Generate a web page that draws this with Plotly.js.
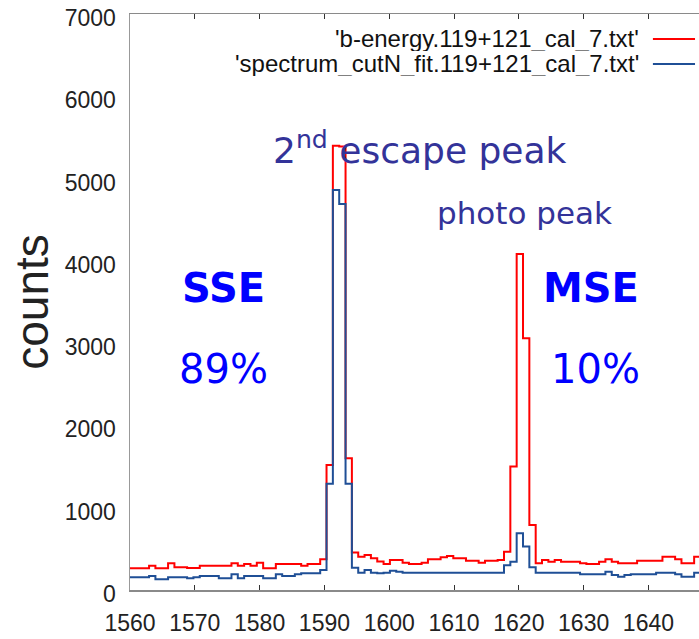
<!DOCTYPE html>
<html>
<head>
<meta charset="utf-8">
<script src="https://cdn.plot.ly/plotly-3.0.1.min.js"></script>
<style>
  html, body { margin: 0; padding: 0; background: #fff; }
  #chart { width: 699px; height: 639px; }
</style>
</head>
<body>
<div id="chart"></div>
<script>
// Energy calibration of the histogram channels (keV)
const firstEdge = 1559.03;
const binWidth = 0.978;

// Counts per channel, 'b-energy.119+121_cal_7.txt'
const bEnergyCounts = [
  263, 263, 263, 263, 295, 263, 263, 324, 276, 276,
  266, 266, 295, 295, 295, 295, 295, 324, 295, 316,
  295, 332, 263, 263, 316, 316, 316, 316, 295, 316,
  316, 373, 1520, 5400, 5390, 1600, 455, 405, 425, 385,
  345, 316, 365, 365, 330, 316, 316, 330, 373, 373,
  397, 413, 385, 385, 356, 356, 330, 356, 356, 365,
  465, 1500, 4083, 3058, 790, 324, 365, 344, 365, 344,
  344, 344, 324, 316, 316, 344, 373, 344, 324, 324,
  324, 356, 356, 356, 356, 405, 405, 373, 324, 324,
  405, 405
];

// Counts per channel, 'spectrum_cutN_fit.119+121_cal_7.txt'
const fitCounts = [
  154, 154, 154, 154, 170, 130, 130, 154, 154, 154,
  142, 154, 170, 170, 170, 142, 142, 190, 142, 170,
  170, 170, 142, 142, 190, 170, 170, 190, 203, 203,
  203, 243, 1290, 4860, 4690, 1290, 270, 211, 243, 211,
  203, 211, 235, 223, 211, 211, 211, 211, 211, 211,
  211, 211, 211, 211, 211, 211, 211, 211, 211, 211,
  300, 344, 690, 530, 275, 211, 211, 211, 211, 211,
  211, 211, 190, 190, 190, 190, 223, 182, 162, 182,
  190, 190, 190, 190, 211, 211, 211, 190, 162, 162,
  211, 211
];

const xTicks = [1560, 1570, 1580, 1590, 1600, 1610, 1620, 1630, 1640];
const yTicks = [0, 1000, 2000, 3000, 4000, 5000, 6000, 7000];

const fileNames = ["'b-energy.119+121_cal_7.txt'", "'spectrum_cutN_fit.119+121_cal_7.txt'"];
const lineColors = ['#ff0000', '#1f4f96'];

// channel centres from the calibration
const energy = bEnergyCounts.map((_, i) => firstEdge + binWidth * (i + 0.5));

const traces = [bEnergyCounts, fitCounts].map((counts, k) => ({
  type: 'scatter',
  mode: 'lines',
  x: energy,
  y: counts,
  name: fileNames[k],
  line: { shape: 'hvh', color: lineColors[k], width: 2 },
  hoverinfo: 'x+y'
}));

const tickFont = { family: 'Liberation Sans, Arial, sans-serif', size: 23, color: '#222' };
const noteFont = { family: 'DejaVu Sans, sans-serif' };

const annotations = [
  { x: 1604.8, y: 5370, text: '2<sup>nd</sup> escape peak', font: Object.assign({ size: 36, color: '#333399' }, noteFont) },
  { x: 1620.9, y: 4580, text: 'photo peak', font: Object.assign({ size: 31, color: '#333399' }, noteFont) },
  { x: 1574.5, y: 3669, text: '<b>SSE</b>', font: Object.assign({ size: 40, color: '#0000ff' }, noteFont) },
  { x: 1574.5, y: 2685, text: '89%', font: Object.assign({ size: 40, color: '#0000ff' }, noteFont) },
  { x: 1631.2, y: 3669, text: '<b>MSE</b>', font: Object.assign({ size: 40, color: '#0000ff' }, noteFont) },
  { x: 1631.8, y: 2685, text: '10%', font: Object.assign({ size: 40, color: '#0000ff' }, noteFont) }
].map(a => Object.assign({ xref: 'x', yref: 'y', showarrow: false, xanchor: 'center', yanchor: 'middle' }, a));

// key in the top right corner: file name followed by its line sample
const keyRows = [0.9566, 0.9132];
const legendFont = { family: 'Liberation Sans, Arial, sans-serif', size: 24, color: '#111' };
fileNames.forEach((name, k) => {
  annotations.push({
    xref: 'paper', yref: 'paper', x: 0.898, y: keyRows[k],
    xanchor: 'right', yanchor: 'middle', showarrow: false,
    height: 25, valign: 'middle',
    text: name, font: legendFont
  });
});
const shapes = fileNames.map((_, k) => ({
  type: 'line', xref: 'paper', yref: 'paper',
  x0: 0.919, x1: 0.993, y0: keyRows[k], y1: keyRows[k],
  line: { color: lineColors[k], width: 2 }
}));

const layout = {
  width: 699,
  height: 639,
  margin: { l: 130, r: 0, t: 14, b: 49 },
  paper_bgcolor: '#ffffff',
  plot_bgcolor: '#ffffff',
  showlegend: false,
  xaxis: {
    range: [1560, 1647.8],
    tickvals: xTicks,
    ticktext: xTicks.map(String),
    showgrid: false,
    zeroline: false,
    showline: true,
    linecolor: '#8a8a8a',
    linewidth: 1.5,
    mirror: 'ticks',
    ticks: 'inside',
    ticklen: 5,
    tickcolor: '#333',
    tickfont: tickFont,
    ticklabelstandoff: 12
  },
  yaxis: {
    range: [0, 7000],
    tickvals: yTicks,
    ticktext: yTicks.map(String),
    showgrid: false,
    zeroline: false,
    showline: true,
    linecolor: '#999',
    linewidth: 1.5,
    ticks: '',
    tickfont: tickFont,
    ticklabelstandoff: 8,
    ticklabelshift: 4,
    title: {
      text: 'counts',
      font: { family: 'Liberation Sans, Arial, sans-serif', size: 46, color: '#222' },
      standoff: 1
    }
  },
  annotations: annotations,
  shapes: shapes
};

Plotly.newPlot('chart', traces, layout, { displayModeBar: false, staticPlot: true });
</script>
</body>
</html>
